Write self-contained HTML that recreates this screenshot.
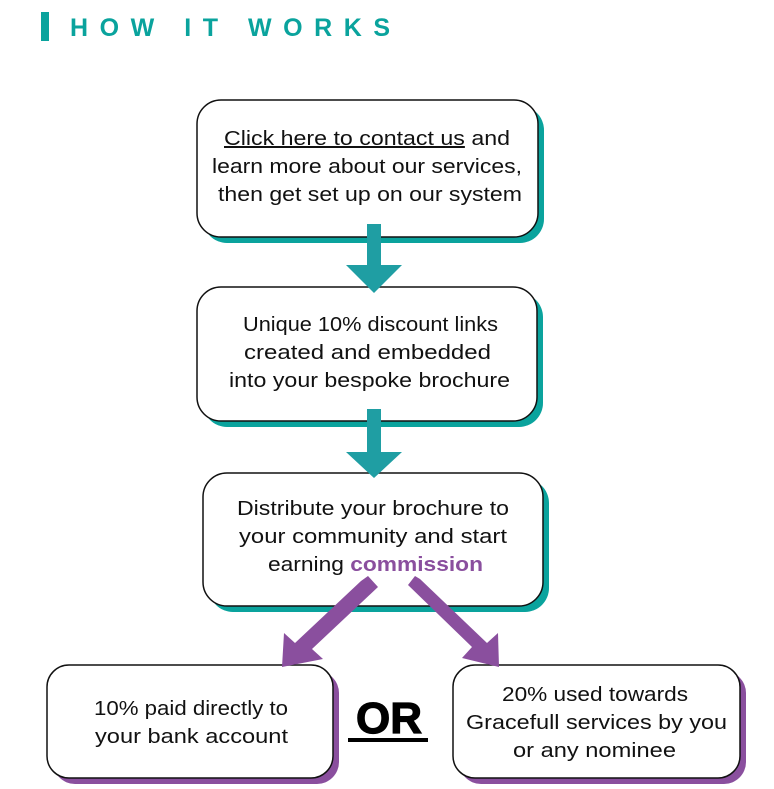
<!DOCTYPE html>
<html><head><style>
html,body{margin:0;padding:0;background:#fff;}
svg text{font-family:"Liberation Sans",sans-serif;}
</style></head><body>
<svg width="774" height="784" viewBox="0 0 774 784" xmlns="http://www.w3.org/2000/svg">
<rect x="41" y="12" width="8" height="29" fill="#0aa39d"/>
<text x="70" y="36" font-size="25" font-weight="bold" fill="#0aa39d" textLength="320" lengthAdjust="spacing">HOW IT WORKS</text>

<!-- box1 -->
<rect x="203" y="106" width="341" height="137" rx="24" fill="#0aa39d"/>
<rect x="197" y="100" width="341" height="137" rx="24" fill="#fff" stroke="#111" stroke-width="1.5"/>
<g font-size="20" fill="#111" lengthAdjust="spacingAndGlyphs">
<text x="224" y="145" textLength="286" lengthAdjust="spacingAndGlyphs"><tspan text-decoration="underline">Click here to contact us</tspan> and</text>
<text x="212" y="173" textLength="310" lengthAdjust="spacingAndGlyphs">learn more about our services,</text>
<text x="218" y="201" textLength="304" lengthAdjust="spacingAndGlyphs">then get set up on our system</text>
</g>

<!-- box2 -->
<rect x="203" y="293" width="340" height="134" rx="24" fill="#0aa39d"/>
<rect x="197" y="287" width="340" height="134" rx="24" fill="#fff" stroke="#111" stroke-width="1.5"/>
<g font-size="20" fill="#111">
<text x="243" y="331" textLength="255" lengthAdjust="spacingAndGlyphs">Unique 10% discount links</text>
<text x="244" y="359" textLength="247" lengthAdjust="spacingAndGlyphs">created and embedded</text>
<text x="229" y="387" textLength="281" lengthAdjust="spacingAndGlyphs">into your bespoke brochure</text>
</g>

<!-- box3 -->
<rect x="209" y="479" width="340" height="133" rx="24" fill="#0aa39d"/>
<rect x="203" y="473" width="340" height="133" rx="24" fill="#fff" stroke="#111" stroke-width="1.5"/>
<g font-size="20" fill="#111">
<text x="237" y="515" textLength="272" lengthAdjust="spacingAndGlyphs">Distribute your brochure to</text>
<text x="239" y="543" textLength="268" lengthAdjust="spacingAndGlyphs">your community and start</text>
<text x="268" y="571" textLength="215" lengthAdjust="spacingAndGlyphs">earning <tspan fill="#8a4f9e" font-weight="bold">commission</tspan></text>
</g>

<!-- box4 -->
<rect x="53" y="671" width="286" height="113" rx="22" fill="#8a4f9e"/>
<rect x="47" y="665" width="286" height="113" rx="22" fill="#fff" stroke="#111" stroke-width="1.5"/>
<g font-size="20" fill="#111">
<text x="94" y="715" textLength="194" lengthAdjust="spacingAndGlyphs">10% paid directly to</text>
<text x="95" y="743" textLength="193" lengthAdjust="spacingAndGlyphs">your bank account</text>
</g>

<!-- box5 -->
<rect x="459" y="671" width="287" height="113" rx="22" fill="#8a4f9e"/>
<rect x="453" y="665" width="287" height="113" rx="22" fill="#fff" stroke="#111" stroke-width="1.5"/>
<g font-size="20" fill="#111">
<text x="502" y="701" textLength="186" lengthAdjust="spacingAndGlyphs">20% used towards</text>
<text x="466" y="729" textLength="261" lengthAdjust="spacingAndGlyphs">Gracefull services by you</text>
<text x="513" y="757" textLength="163" lengthAdjust="spacingAndGlyphs">or any nominee</text>
</g>

<!-- OR -->
<text x="389" y="733" font-size="44" font-weight="bold" fill="#000" text-anchor="middle" stroke="#000" stroke-width="1.2">OR</text>
<rect x="348" y="738" width="80" height="4" fill="#000"/>

<!-- teal arrows -->
<polygon points="367,224 381,224 381,265 402,265 374,293 346,265 367,265" fill="#1f9ea3"/>
<polygon points="367,409 381,409 381,452 402,452 374,478 346,452 367,452" fill="#1f9ea3"/>

<!-- purple arrows -->
<polygon points="373,579 383,590 317,652 328,662 287,670 289,636 300,646 366,584" fill="#8a4f9e" transform="translate(-5,-3)"/>
<polygon points="415,579 408,588 472,650 462,661 499,670 498,636 487,646 420,582" fill="#8a4f9e" transform="translate(0,-3)"/>
</svg>
</body></html>
